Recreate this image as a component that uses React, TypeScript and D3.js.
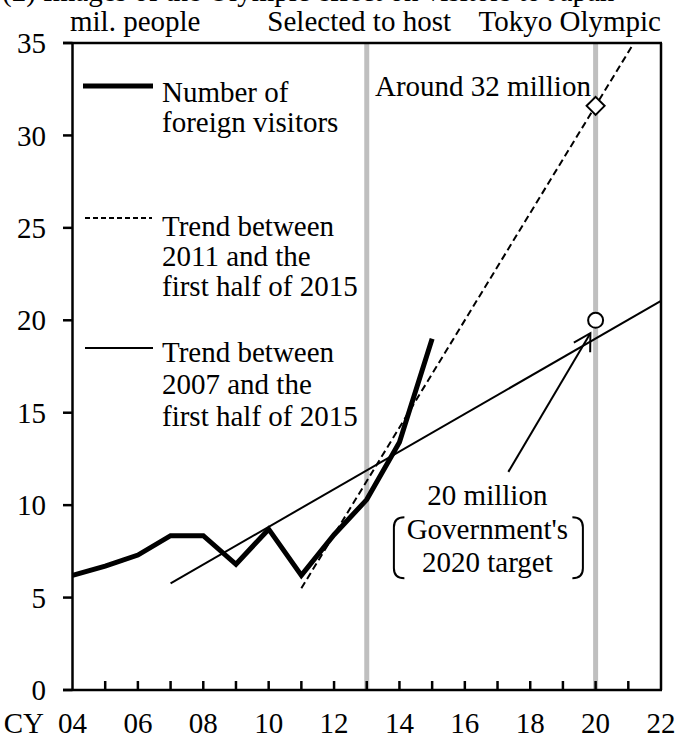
import React from "react";
import * as d3 from "d3";

// ---- Data ----
const years = [2004, 2005, 2006, 2007, 2008, 2009, 2010, 2011, 2012, 2013, 2014, 2015];
const visitors = [6.2, 6.7, 7.3, 8.35, 8.35, 6.8, 8.7, 6.2, 8.4, 10.3, 13.4, 19.0];

// Trend between 2011 and first half of 2015 (dashed), endpoints
const trend11Years = [2011, 2021.17];
const trend11Values = [5.5, 35];

// Trend between 2007 and first half of 2015 (solid thin), endpoints
const trend07Years = [2007, 2022];
const trend07Values = [5.77, 21.05];

// Markers
const olympicYear = 2020;
const selectedYear = 2013;
const trendAt2020 = 31.6; // "Around 32 million"
const govTarget = 20; // Government's 2020 target

// Arrow (from annotation to target)
const arrowFrom = [2017.33, 11.8];
const arrowTo = [2019.84, 19.3];

const yTicks = [0, 5, 10, 15, 20, 25, 30, 35];
const xMinorTicks = d3.range(2005, 2022);
const xLabelYears = [2004, 2006, 2008, 2010, 2012, 2014, 2016, 2018, 2020, 2022];

const FONT = "'Liberation Serif', 'Times New Roman', Times, serif";
const FS = 29;

export default function App() {
  const W = 677;
  const H = 738;
  const x = d3.scaleLinear().domain([2004, 2022]).range([72.5, 661]);
  const y = d3.scaleLinear().domain([0, 35]).range([690, 43]);

  const line = d3
    .line<[number, number]>()
    .x((d) => x(d[0]))
    .y((d) => y(d[1]));

  const visitorPts: [number, number][] = years.map((yr, i) => [yr, visitors[i]]);
  const t11: [number, number][] = trend11Years.map((yr, i) => [yr, trend11Values[i]]);
  const t07: [number, number][] = trend07Years.map((yr, i) => [yr, trend07Values[i]]);

  const x0 = x(2004);
  const x1 = x(2022);
  const yTop = y(35);
  const yBot = y(0);

  // arrow geometry
  const ax1 = x(arrowFrom[0]);
  const ay1 = y(arrowFrom[1]);
  const ax2 = x(arrowTo[0]);
  const ay2 = y(arrowTo[1]);
  const ang = Math.atan2(ay1 - ay2, ax1 - ax2);
  const headLen = 19;
  const headAng = (30 * Math.PI) / 180;
  const h1 = [ax2 + headLen * Math.cos(ang + headAng), ay2 + headLen * Math.sin(ang + headAng)];
  const h2 = [ax2 + headLen * Math.cos(ang - headAng), ay2 + headLen * Math.sin(ang - headAng)];

  const dx = x(olympicYear);
  const dy = y(trendAt2020);
  const dd = 9;

  // annotation block
  const annX = x(2016.69);
  const annY = y(10);

  const T = (props: any) => <text fontFamily={FONT} fontSize={FS} fill="#000" {...props} />;

  return (
    <svg
      width={W}
      height={H}
      style={{ position: "absolute", left: 0, top: 0, background: "#fff" }}
    >
      <rect x={0} y={0} width={W} height={H} fill="#fff" />
      {/* clipped title */}
      <T x={2} y={1}>(2) Images of the Olympic effect on visitors to Japan</T>

      {/* top labels */}
      <T x={70} y={31}>mil. people</T>
      <T x={451} y={31} textAnchor="end">Selected to host</T>
      <T x={661} y={31} textAnchor="end">Tokyo Olympic</T>

      {/* gray vertical lines */}
      {[selectedYear, olympicYear].map((yr) => (
        <line key={yr} x1={x(yr)} x2={x(yr)} y1={yTop} y2={yBot} stroke="#bfbfbf" strokeWidth={5} />
      ))}

      {/* frame */}
      <line x1={x0 - 9.5} x2={x1 + 1} y1={yTop} y2={yTop} stroke="#000" strokeWidth={2.5} />
      <line x1={x0 - 9.5} x2={x1 + 1} y1={yBot} y2={yBot} stroke="#000" strokeWidth={2.5} />
      <line x1={x0} x2={x0} y1={yTop} y2={yBot} stroke="#000" strokeWidth={2.5} />
      <line x1={x1} x2={x1} y1={yTop} y2={yBot} stroke="#000" strokeWidth={2.5} />

      {/* y ticks & labels */}
      {yTicks.map((t) => (
        <g key={t}>
          <line x1={x0 - 9.5} x2={x0} y1={y(t)} y2={y(t)} stroke="#000" strokeWidth={2.5} />
          <T x={46} y={y(t)} dy="0.35em" textAnchor="end">
            {t}
          </T>
        </g>
      ))}

      {/* x ticks */}
      {xMinorTicks.map((t) => (
        <line key={t} x1={x(t)} x2={x(t)} y1={yBot} y2={yBot - 9} stroke="#000" strokeWidth={2.5} />
      ))}
      {xLabelYears.map((t) => (
        <T key={t} x={x(t)} y={733} textAnchor="middle">
          {String(t % 100).padStart(2, "0")}
        </T>
      ))}
      <T x={44} y={733} textAnchor="end">CY</T>

      {/* trend lines */}
      <path d={line(t07) || ""} fill="none" stroke="#000" strokeWidth={2} />
      <path d={line(t11) || ""} fill="none" stroke="#000" strokeWidth={2} strokeDasharray="7,4" />

      {/* visitors */}
      <path
        d={line(visitorPts) || ""}
        fill="none"
        stroke="#000"
        strokeWidth={5}
        strokeLinejoin="miter"
      />

      {/* markers */}
      <path
        d={`M${dx},${dy - dd}L${dx + dd},${dy}L${dx},${dy + dd}L${dx - dd},${dy}Z`}
        fill="#fff"
        stroke="#000"
        strokeWidth={2}
      />
      <circle cx={x(olympicYear)} cy={y(govTarget)} r={7.5} fill="#fff" stroke="#000" strokeWidth={2} />

      {/* arrow */}
      <line x1={ax1} y1={ay1} x2={ax2} y2={ay2} stroke="#000" strokeWidth={2} />
      <polyline
        points={`${h1[0]},${h1[1]} ${ax2},${ay2} ${h2[0]},${h2[1]}`}
        fill="none"
        stroke="#000"
        strokeWidth={2}
      />

      {/* annotations */}
      <T x={375} y={96}>Around 32 million</T>

      <T x={annX} y={annY} textAnchor="middle">20 million</T>
      <T x={annX} y={annY + 34} textAnchor="middle">Government's</T>
      <T x={annX} y={annY + 67} textAnchor="middle">2020 target</T>
      <path
        d={`M${annX - 83},${annY + 12} Q${annX - 93.5},${annY + 12} ${annX - 93.5},${annY + 22} L${annX - 93.5},${annY + 63} Q${annX - 93.5},${annY + 73} ${annX - 83},${annY + 73}`}
        fill="none"
        stroke="#000"
        strokeWidth={2}
      />
      <path
        d={`M${annX + 85},${annY + 12} Q${annX + 95.5},${annY + 12} ${annX + 95.5},${annY + 22} L${annX + 95.5},${annY + 63} Q${annX + 95.5},${annY + 73} ${annX + 85},${annY + 73}`}
        fill="none"
        stroke="#000"
        strokeWidth={2}
      />

      {/* legend */}
      <line x1={83} x2={153} y1={86} y2={86} stroke="#000" strokeWidth={5} />
      <T x={162} y={102}>Number of</T>
      <T x={162} y={132}>foreign visitors</T>

      <line x1={85} x2={152} y1={218} y2={218} stroke="#000" strokeWidth={2} strokeDasharray="5,3" />
      <T x={162} y={236}>Trend between</T>
      <T x={162} y={266}>2011 and the</T>
      <T x={162} y={296}>first half of 2015</T>

      <line x1={85} x2={153} y1={348} y2={348} stroke="#000" strokeWidth={2} />
      <T x={162} y={362}>Trend between</T>
      <T x={162} y={394}>2007 and the</T>
      <T x={162} y={426}>first half of 2015</T>
    </svg>
  );
}
